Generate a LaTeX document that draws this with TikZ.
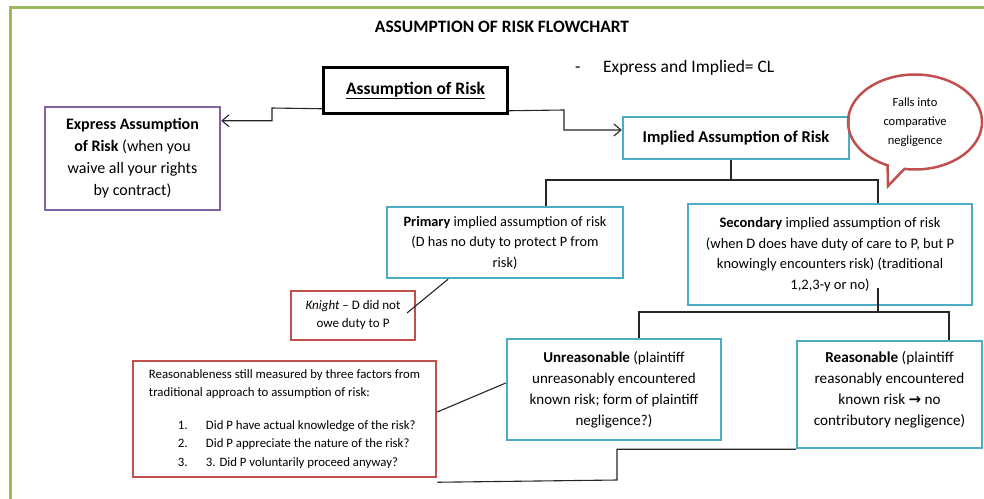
\documentclass[tikz,border=0pt]{standalone}
\usepackage{fontspec}
\setmainfont{Carlito}
\newfontfamily\symfont{DejaVu Sans}
\usetikzlibrary{arrows.meta,shapes.callouts}
\definecolor{bordergreen}{HTML}{9BBB59}
\definecolor{boxpurple}{HTML}{8064A2}
\definecolor{boxcyan}{HTML}{4BACC6}
\definecolor{boxred}{HTML}{C0504D}
\begin{document}
\begin{tikzpicture}[x=1pt,y=-1pt,
  box/.style={draw, line width=2.5pt, rectangle, align=center, inner sep=0pt},
  cbox/.style={box, draw=boxcyan},
  rbox/.style={box, draw=boxred},
  link/.style={draw=black!85, line width=1.1pt},
  arr/.style={link, -{Straight Barb[length=7pt,width=12pt]}},
  ]
\useasboundingbox (0,0) rectangle (984,498);
\fill[white] (0,0) rectangle (984,498);
\draw[bordergreen, line width=3pt] (10,520) -- (10,7) -- (1000,7);

\node[font=\bfseries\fontsize{17.4}{20}\selectfont] (title) at (502,27) {ASSUMPTION OF RISK FLOWCHART};
\node[font=\fontsize{17.5}{20}\selectfont, anchor=west, inner sep=0pt] (note) at (575,68) {\makebox[28pt][l]{-}Express and Implied= CL};

\node[box, draw=black, minimum width=184pt, minimum height=46pt, font=\bfseries\fontsize{17.5}{20}\selectfont] (aor) at (415.5,90.5) {\underline{Assumption of Risk}};

\node[box, draw=boxpurple, minimum width=175pt, minimum height=103pt, font=\fontsize{16}{22}\selectfont] (express) at (132.5,158.5) {\textbf{Express Assumption}\\\textbf{of Risk} (when you\\waive all your rights\\by contract)};

\node[cbox, minimum width=226pt, minimum height=42pt, font=\bfseries\fontsize{16.5}{19}\selectfont] (implied) at (736,138) {Implied Assumption of Risk};

\node[ellipse callout, draw=boxred, line width=2.5pt, minimum width=134pt, minimum height=95pt, callout absolute pointer={(888,186)}, align=center, font=\fontsize{12.5}{19}\selectfont, inner sep=0pt] (bubble) at (915,122) {Falls into\\comparative\\negligence};

\node[cbox, minimum width=236pt, minimum height=71pt, font=\fontsize{14.3}{20.5}\selectfont] (primary) at (505,242.5) {\textbf{Primary} implied assumption of risk\\(D has no duty to protect P from\\risk)};

\node[cbox, minimum width=284pt, minimum height=101pt, font=\fontsize{14.5}{20.5}\selectfont] (secondary) at (830,254.5) {\textbf{Secondary} implied assumption of risk\\(when D does have duty of care to P, but P\\knowingly encounters risk) (traditional\\1,2,3-y or no)};

\node[rbox, minimum width=124pt, minimum height=49pt, font=\fontsize{13}{18}\selectfont] (knight) at (353,315.5) {\textit{Knight} – D did not\\owe duty to P};

\node[rbox, minimum width=303pt, minimum height=116pt, align=left, font=\fontsize{12.8}{18.5}\selectfont] (reason) at (284.5,419) {Reasonableness still measured by three factors from\\traditional approach to assumption of risk:\\[14pt]\hspace*{29pt}\makebox[28pt][l]{1.}Did P have actual knowledge of the risk?\\\hspace*{29pt}\makebox[28pt][l]{2.}Did P appreciate the nature of the risk?\\\hspace*{29pt}\makebox[28pt][l]{3.}3. Did P voluntarily proceed anyway?};

\node[cbox, minimum width=214pt, minimum height=101pt, font=\fontsize{15}{21}\selectfont] (unreas) at (614,389.5) {\textbf{Unreasonable} (plaintiff\\unreasonably encountered\\known risk; form of plaintiff\\negligence?)};

\node[cbox, minimum width=185pt, minimum height=107pt, font=\fontsize{15.2}{21}\selectfont] (reas) at (889.5,394.5) {\textbf{Reasonable} (plaintiff\\reasonably encountered\\known risk {\symfont\bfseries\fontsize{15}{15}\selectfont →} no\\contributory negligence)\rule[-13pt]{0pt}{13pt}};

% connectors
\draw[arr] ([yshift=6pt]aor.south west) -- (272,108) |- ([yshift=-15pt]express.north east);
\draw[arr] ([yshift=4pt]aor.south east) -- (564,110) |- ([yshift=8pt]implied.west);

\coordinate (pTop) at ([xshift=41pt]primary.north);
\coordinate (sTop) at ([xshift=48pt]secondary.north);
\draw[link] ([xshift=-5pt]implied.south) -- ([xshift=-5pt]implied.south |- 0,180);
\draw[link] (pTop) -- (pTop |- 0,180) -- (sTop |- 0,180) -- (sTop);

\coordinate (kStart) at ([xshift=-57pt]primary.south);
\coordinate (kEnd) at ([xshift=54pt,yshift=2.5pt]knight.center);
\draw[link] (kStart) -- (kEnd);

\coordinate (sBot) at ([xshift=48pt,yshift=18pt]secondary.south);
\coordinate (uTop) at ([xshift=25pt]unreas.north);
\coordinate (rTop) at ([xshift=59.5pt]reas.north);
\draw[link] (sBot) -- (sBot |- 0,312);
\draw[link] (uTop) -- (uTop |- 0,312) -- (rTop |- 0,312) -- (rTop);

\draw[link] ([yshift=7pt]reason.east) -- ([yshift=6.5pt]unreas.west);
\draw[link] (reas.south west) -| (617,480) -- ([yshift=-4pt]reason.south east);
\end{tikzpicture}
\end{document}
